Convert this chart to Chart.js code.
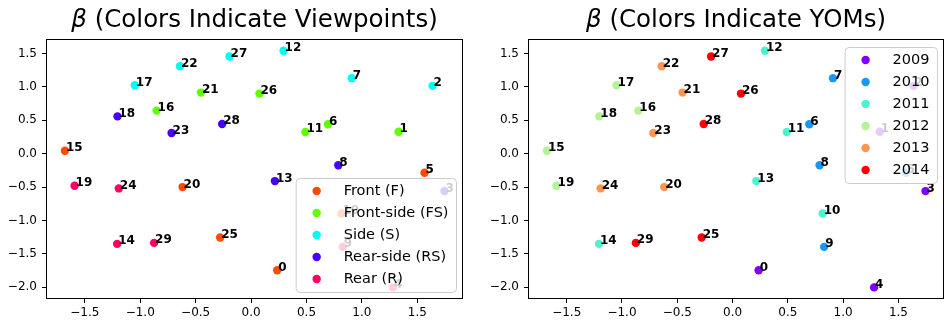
<!DOCTYPE html>
<html>
<head>
<meta charset="utf-8">
<script src="https://cdn.jsdelivr.net/npm/chart.js@4.4.1/dist/chart.umd.min.js"></script>
<style>
  body { margin: 0; background: #fff; }
  #wrap { position: relative; width: 945px; height: 320px; }
  canvas { position: absolute; top: 0; }
</style>
</head>
<body>
<div id="wrap">
  <canvas id="left" width="472" height="320" style="left:0"></canvas>
  <canvas id="right" width="473" height="320" style="left:472px"></canvas>
</div>
<script>
// beta coordinates of the 30 items
const pointIds = [0, 1, 2, 3, 4, 5, 6, 7, 8, 9, 10, 11, 12, 13, 14, 15, 16, 17, 18, 19, 20, 21, 22, 23, 24, 25, 26, 27, 28, 29];
const betaX = [0.236, 1.331, 1.637, 1.745, 1.28, 1.565, 0.694, 0.908, 0.787, 0.828, 0.815, 0.49, 0.293, 0.215, -1.208, -1.679, -0.852, -1.049, -1.205, -1.592, -0.618, -0.452, -0.641, -0.717, -1.193, -0.279, 0.076, -0.194, -0.261, -0.875];
const betaY = [-1.746, 0.33, 1.017, -0.56, -2.003, -0.285, 0.441, 1.132, -0.172, -1.396, -0.895, 0.326, 1.542, -0.41, -1.351, 0.045, 0.646, 1.027, 0.56, -0.48, -0.5, 0.916, 1.312, 0.31, -0.52, -1.255, 0.901, 1.457, 0.446, -1.336];

// group of each item
const viewOf = [0, 1, 2, 3, 4, 0, 1, 2, 3, 4, 0, 1, 2, 3, 4, 0, 1, 2, 3, 4, 0, 1, 2, 3, 4, 0, 1, 2, 3, 4];
const yomOf = [0, 0, 0, 0, 0, 1, 1, 1, 1, 1, 2, 2, 2, 2, 2, 3, 3, 3, 3, 3, 4, 4, 4, 4, 4, 5, 5, 5, 5, 5];

const viewNames = ['Front (F)', 'Front-side (FS)', 'Side (S)', 'Rear-side (RS)', 'Rear (R)'];
const yomNames = ['2009', '2010', '2011', '2012', '2013', '2014'];

const xTicks = [-1.5, -1.0, -0.5, 0.0, 0.5, 1.0, 1.5];
const yTicks = [-2.0, -1.5, -1.0, -0.5, 0.0, 0.5, 1.0, 1.5];
const xLimits = [-1.85, 1.912];
const yLimits = [-2.177, 1.719];

const viewColors = ['#ff4b00', '#60ff00', '#00fff3', '#4800ff', '#ff0063'];
const yomColors = ['#8000ff', '#1a96f3', '#4df3ce', '#b3f396', '#ff964f', '#ff0000'];

const FONT = 'DejaVu Sans';

function fmt(v) {
  return Number(v).toFixed(1).replace('-', '\u2212');
}

function makeDatasets(groupOf, names, colors) {
  return names.map((name, g) => ({
    label: name,
    data: pointIds.filter(i => groupOf[i] === g).map(i => ({ x: betaX[i], y: betaY[i], id: pointIds[i] })),
    backgroundColor: colors[g],
    borderWidth: 0,
    pointRadius: 4.2,
    pointHoverRadius: 4.2
  }));
}

// title with an italic beta, frame, point labels and an inset legend
const decor = {
  id: 'decor',
  beforeDatasetsDraw(chart) {
    const { ctx, chartArea: a } = chart;
    ctx.save();
    ctx.strokeStyle = '#000';
    ctx.lineWidth = 1;
    ctx.strokeRect(Math.round(a.left) + 0.5, Math.round(a.top) + 0.5,
      Math.round(a.right) - Math.round(a.left) - 1, Math.round(a.bottom) - Math.round(a.top) - 1);
    ctx.restore();
  },
  afterDatasetsDraw(chart, args, opts) {
    const { ctx, chartArea: a } = chart;
    ctx.save();

    // point labels
    ctx.fillStyle = '#000';
    ctx.font = 'bold 12px "' + FONT + '"';
    ctx.textAlign = 'left';
    ctx.textBaseline = 'alphabetic';
    chart.data.datasets.forEach((ds, di) => {
      chart.getDatasetMeta(di).data.forEach((pt, j) => {
        ctx.fillText(String(ds.data[j].id), pt.x + 1, pt.y + 0.5);
      });
    });

    // legend
    ctx.font = '14.5px "' + FONT + '"';
    const names = chart.data.datasets.map(d => d.label);
    const maxW = Math.max(...names.map(n => ctx.measureText(n).width));
    const w = 48 + maxW + 7.5;
    const h = names.length * 22 + 4;
    const x = a.right - 7 - w;
    const y = opts.loc === 'upper' ? a.top + 8 : a.bottom - 7 - h;
    ctx.beginPath();
    ctx.roundRect(x + 0.5, y + 0.5, w, h, 4);
    ctx.fillStyle = 'rgba(255,255,255,0.8)';
    ctx.fill();
    ctx.strokeStyle = '#cccccc';
    ctx.lineWidth = 1;
    ctx.stroke();
    ctx.textBaseline = 'middle';
    names.forEach((n, k) => {
      const cy = y + 13 + k * 22;
      ctx.beginPath();
      ctx.arc(x + 21, cy, 4.2, 0, Math.PI * 2);
      ctx.fillStyle = chart.data.datasets[k].backgroundColor;
      ctx.fill();
      ctx.fillStyle = '#000';
      ctx.fillText(n, x + 48, cy + 0.5);
    });

    // title
    const cx = (a.left + a.right) / 2;
    const fBeta = 'italic 24.5px "' + FONT + '"';
    const fRest = '24.5px "' + FONT + '"';
    ctx.font = fBeta;
    const wb = ctx.measureText('\u03b2').width;
    ctx.font = fRest;
    const wr = ctx.measureText(opts.title).width;
    const tx = cx - (wb + wr) / 2;
    ctx.textBaseline = 'alphabetic';
    ctx.fillStyle = '#000';
    ctx.font = fBeta;
    ctx.fillText('\u03b2', tx, 26.5);
    ctx.font = fRest;
    ctx.fillText(opts.title, tx + wb, 26.5);

    ctx.restore();
  }
};

function makeChart(id, groupOf, names, colors, title, yWidth, padRight, loc) {
  const tickFont = { family: FONT, size: 12 };
  return new Chart(document.getElementById(id), {
    type: 'scatter',
    data: { datasets: makeDatasets(groupOf, names, colors) },
    options: {
      responsive: false,
      animation: false,
      events: [],
      layout: { autoPadding: false, padding: { top: 39, right: padRight, bottom: 0, left: 0 } },
      plugins: {
        legend: { display: false },
        tooltip: { enabled: false },
        decor: { title: title, loc: loc }
      },
      scales: {
        x: {
          min: xLimits[0],
          max: xLimits[1],
          afterBuildTicks: s => { s.ticks = xTicks.map(v => ({ value: v })); },
          afterFit: s => { s.height = 21; },
          border: { display: false },
          grid: { drawOnChartArea: false, drawTicks: true, tickLength: 4, color: '#000', lineWidth: 1 },
          ticks: { font: tickFont, color: '#000', padding: 3, maxRotation: 0, callback: v => fmt(v) }
        },
        y: {
          min: yLimits[0],
          max: yLimits[1],
          afterBuildTicks: s => { s.ticks = yTicks.map(v => ({ value: v })); },
          afterFit: s => { s.width = yWidth; },
          border: { display: false },
          grid: { drawOnChartArea: false, drawTicks: true, tickLength: 4, color: '#000', lineWidth: 1 },
          ticks: { font: tickFont, color: '#000', padding: 5, callback: v => fmt(v) }
        }
      }
    },
    plugins: [decor]
  });
}

makeChart('left', viewOf, viewNames, viewColors, ' (Colors Indicate Viewpoints)', 46, 9, 'lower');
makeChart('right', yomOf, yomNames, yomColors, ' (Colors Indicate YOMs)', 56, 1, 'upper');
</script>
</body>
</html>
